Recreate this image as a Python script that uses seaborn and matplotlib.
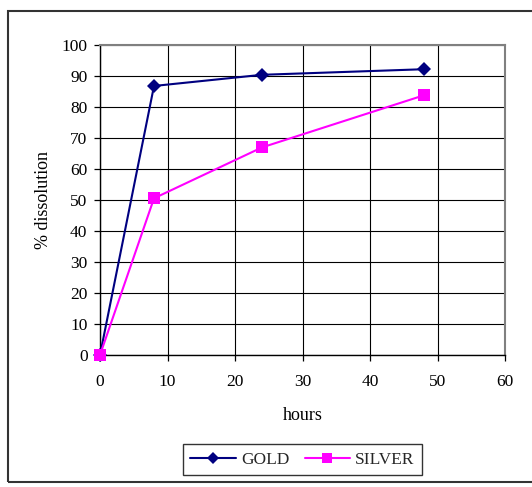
import matplotlib
matplotlib.use("Agg")
import matplotlib.pyplot as plt
from matplotlib.patches import Rectangle
from matplotlib.lines import Line2D
import seaborn as sns
import pandas as pd

# Leaching time (hours) and measured dissolution (%)
hours = [0, 8, 24, 48]
gold = [0, 86.7, 90.3, 92.1]
silver = [0, 50.5, 66.9, 83.7]
series_names = ["GOLD", "SILVER"]
x_ticks = [0, 10, 20, 30, 40, 50, 60]
y_ticks = [0, 10, 20, 30, 40, 50, 60, 70, 80, 90, 100]

df = pd.DataFrame({
    "hours": hours * 2,
    "dissolution": gold + silver,
    "metal": [series_names[0]] * len(hours) + [series_names[1]] * len(hours),
})

sns.set_theme(style="white")
plt.rcParams["font.family"] = ["Liberation Serif", "DejaVu Serif"]

fig = plt.figure(figsize=(5.32, 4.87), dpi=100)
ax = fig.add_axes([100 / 532, 1 - 355 / 487, 405 / 532, 310.3 / 487])

palette = {"GOLD": "#000080", "SILVER": "#FF00FF"}
markers = {"GOLD": "D", "SILVER": "s"}
sizes = {"GOLD": 7.5, "SILVER": 8.5}

for name in series_names:
    sub = df[df["metal"] == name]
    sns.lineplot(data=sub, x="hours", y="dissolution", ax=ax, color=palette[name],
                 marker=markers[name], markersize=sizes[name], markeredgewidth=0,
                 linewidth=1.5, legend=False, zorder=3, clip_on=False)

ax.set_xlim(0, 60)
ax.set_ylim(0, 100)
ax.set_xticks(x_ticks)
ax.set_yticks(y_ticks)
ax.grid(True, color="black", linewidth=0.8)
ax.set_axisbelow(True)

for side in ["left", "bottom"]:
    ax.spines[side].set_color("black")
    ax.spines[side].set_linewidth(1.0)
for side in ["top", "right"]:
    ax.spines[side].set_color("#808080")
    ax.spines[side].set_linewidth(1.5)

ax.tick_params(axis="both", direction="out", length=4, width=0.9, color="black",
               labelsize=12.5, labelcolor="black", left=True, bottom=True)
ax.tick_params(axis="y", pad=5)
ax.tick_params(axis="x", pad=10)
ax.set_xlabel("hours", fontsize=13, color="black", labelpad=12)
ax.set_ylabel("% dissolution", fontsize=13, color="black", labelpad=7)

# Outer chart border
fig.patches.append(Rectangle((8 / 532, 1 - 482 / 487), 1.0, (482 - 11) / 487,
                             transform=fig.transFigure, fill=False,
                             edgecolor="#333333", linewidth=1.5, zorder=0))

handles = [Line2D([], [], color=palette[n], marker=markers[n], markersize=sizes[n] - 1,
                  markeredgewidth=0, linewidth=1.5) for n in series_names]
leg = fig.legend(handles, series_names, loc="center", ncol=2,
                 bbox_to_anchor=(302.5 / 532, 1 - 459.5 / 487), frameon=True,
                 fancybox=False, edgecolor="black", fontsize=12.5,
                 handlelength=2.6, columnspacing=0.9, handletextpad=0.3,
                 borderpad=0.45, borderaxespad=0)
leg.get_frame().set_linewidth(1.0)

fig.savefig("out.png", dpi=100)
